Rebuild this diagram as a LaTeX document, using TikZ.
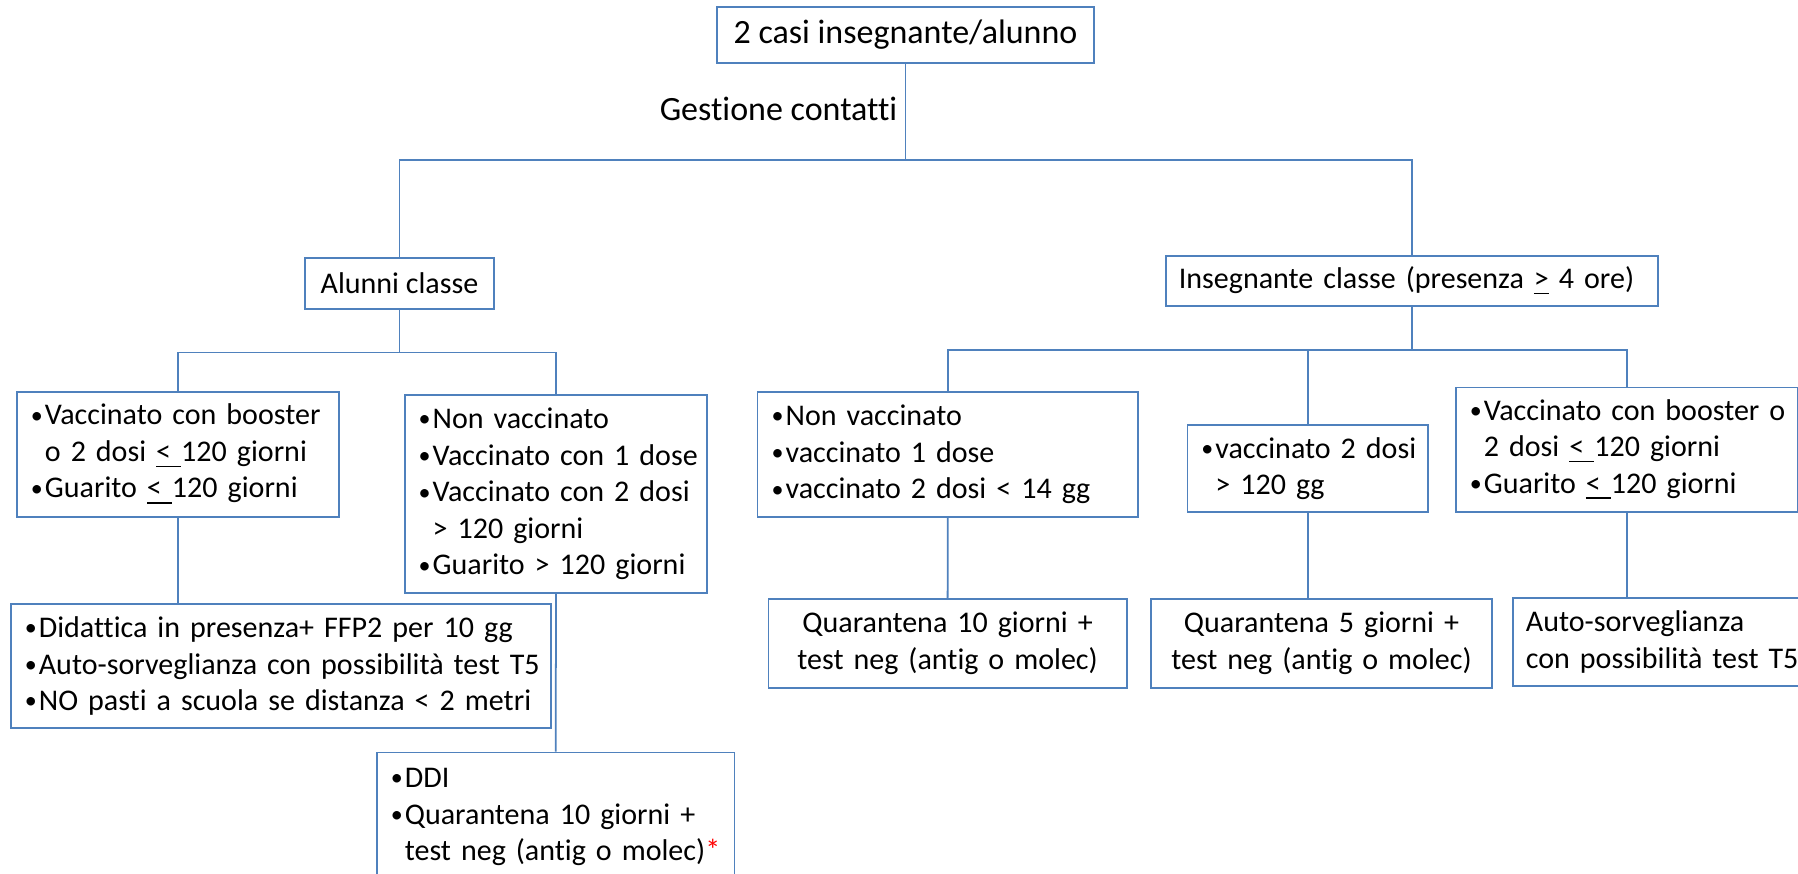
\documentclass[tikz,border=0pt]{standalone}
\usepackage{fontspec}
\setmainfont{Carlito}[Ligatures=NoCommon]
\definecolor{bleuligne}{RGB}{79,129,189}
\newcommand{\corps}{\fontsize{8.54pt}{10.39pt}\selectfont}
\newcommand{\grand}{\fontsize{9.67pt}{11.8pt}\selectfont}
\newcommand{\puce}[1]{\mbox{\makebox[0.15cm][l]{\hspace{0.01cm}\raisebox{0.12ex}{\scalebox{0.8}{•}}}#1}}
\newcommand{\suite}[1]{\mbox{\hspace*{0.15cm}#1}}
\newcommand{\infeg}{\underline{<\ }}

\begin{document}
\begin{tikzpicture}[x=0.01cm, y=0.01cm]
\tikzset{boite/.style={draw=bleuligne, line width=0.5pt, inner xsep=0.13cm, inner ysep=0pt, font=\corps, align=left},
         lien/.style={draw=bleuligne, line width=0.5pt}}
\useasboundingbox (0,0) rectangle (1798,873);
\clip (0,0) rectangle (1798,873);
\node[boite, font=\grand, align=center, minimum width=3.77cm, minimum height=0.56cm] (C) at (905.5,838) {2 casi insegnante/alunno};
\node[anchor=base east, inner sep=0pt, font=\grand] (G) at (898,752) {Gestione contatti};
\node[boite, align=center, minimum width=1.89cm, minimum height=0.51cm] (A) at (399.5,589.5) {Alunni classe};
\node[boite, text width=4.66cm, minimum height=0.50cm] (I) at (1412,592) {Insegnante classe (presenza \underline{>} 4 ore)};
\node[boite, text width=2.96cm, minimum height=1.25cm] (A1) at (178,418.5) {\puce{Vaccinato con booster}\\ \suite{o 2 dosi \infeg120 giorni}\\ \puce{Guarito \infeg120 giorni}};
\node[boite, text width=2.765cm, minimum height=1.98cm] (A2) at (556,379) {\puce{Non vaccinato}\\ \puce{Vaccinato con 1 dose}\\ \puce{Vaccinato con 2 dosi}\\ \suite{> 120 giorni}\\ \puce{Guarito > 120 giorni}};
\node[boite, text width=5.14cm, minimum height=1.24cm] (A3) at (281,207) {\puce{Didattica in presenza+ FFP2 per 10 gg}\\ \puce{Auto-sorveglianza con possibilità test T5}\\ \puce{NO pasti a scuola se distanza < 2 metri}};
\node[boite, text width=3.315cm, minimum height=1.29cm] (A4) at (555.7,56) {\puce{DDI}\\ \puce{Quarantena 10 giorni +}\\ \suite{test neg (antig o molec)\textcolor{red}{*}}};
\node[boite, text width=3.54cm, minimum height=1.25cm] (I1) at (947.7,418.5) {\puce{Non vaccinato}\\ \puce{vaccinato 1 dose}\\ \puce{vaccinato 2 dosi < 14 gg}};
\node[boite, text width=2.145cm, minimum height=0.87cm] (I2) at (1307.7,404.5) {\puce{vaccinato 2 dosi}\\ \suite{> 120 gg}};
\node[boite, text width=3.153cm, minimum height=1.243cm] (I3) at (1626.6,423.2) {\puce{Vaccinato con booster o}\\ \suite{2 dosi \infeg120 giorni}\\ \puce{Guarito \infeg120 giorni}};
\node[boite, align=center, text width=3.318cm, minimum height=0.884cm] (Q1) at (947.6,229.5) {Quarantena 10 giorni +\\ test neg (antig o molec)};
\node[boite, align=center, text width=3.15cm, minimum height=0.884cm] (Q2) at (1321.5,229.5) {Quarantena 5 giorni +\\ test neg (antig o molec)};
\node[boite, text width=2.94cm, minimum height=0.88cm] (Q3) at (1673,231) {Auto-sorveglianza\\ con possibilità test T5};
\draw[lien] (C.south) -- ++(0,-96) -| (A.north);
\draw[lien] (C.south) -- ++(0,-96) -| (I.north);
\draw[lien] (A.south) -- ++(0,-42.7) -| (A1.north);
\draw[lien] (A.south) -- ++(0,-42.7) -| (A2.north);
\draw[lien] (I.south) -- ++(0,-43) -| (I1.north);
\draw[lien] (I.south) -- ++(0,-43) -| (I2.north);
\draw[lien] (I.south) -- ++(0,-43) -| (I3.north);
\draw[lien] (A1.south) -- (A1.south |- A3.north);
\draw[lien] (A2.south) -- (A4.north);
\draw[lien] (I1.south) -- (Q1.north);
\draw[lien] (I2.south) -- (I2.south |- Q2.north);
\draw[lien] (I3.south) -- (I3.south |- Q3.north);
\end{tikzpicture}
\end{document}
